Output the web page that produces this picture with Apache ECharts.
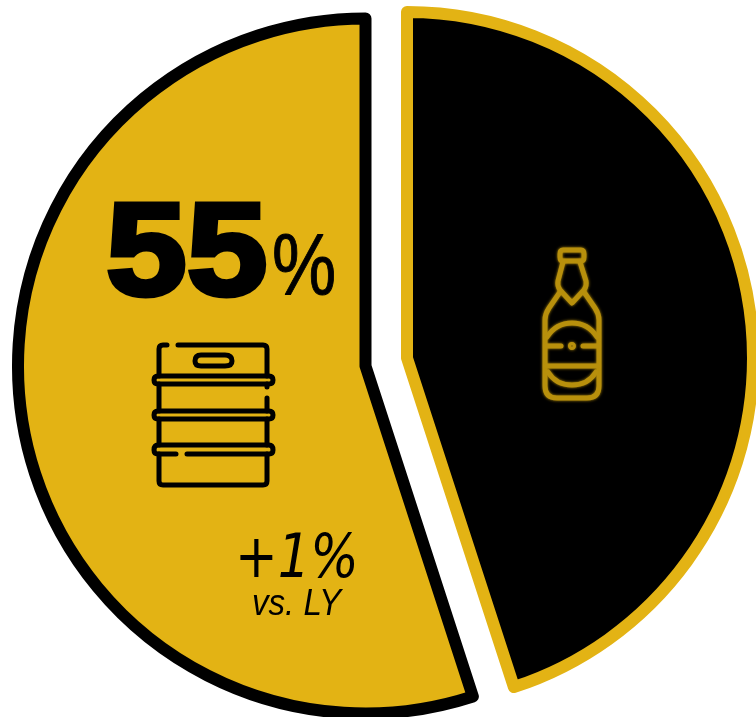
<!DOCTYPE html>
<html>
<head>
<meta charset="utf-8">
<style>html,body{margin:0;padding:0;background:#fff}#chart{width:756px;height:717px}</style>
<script src="https://cdn.jsdelivr.net/npm/echarts@6/dist/echarts.min.js"></script>
</head>
<body>
<div id="chart"></div>
<script>
// Share of volume by package type, clockwise from twelve o'clock
const categories = ['Bottle', 'Keg'];
const shares = [45, 55];
const changeLabel = '+1%';
const changeBasis = 'vs. LY';

const GOLD = '#E3B314';
const BLACK = '#000000';
const ICON_GOLD = '#B8900C';

// Each package type is its own pie so the two wedges can sit apart.
function wedge(visibleName, center, radius, fill, edge) {
  return {
    type: 'pie',
    silent: true,
    animation: false,
    center: center,
    radius: [0, radius],
    startAngle: 90,
    clockwise: true,
    label: { show: false },
    labelLine: { show: false },
    emphasis: { disabled: true },
    data: categories.map((name, i) => ({
      name: name,
      value: shares[i],
      itemStyle: name === visibleName
        ? { color: fill, borderColor: edge, borderWidth: 12, borderJoin: 'round' }
        : { color: 'rgba(0,0,0,0)', borderWidth: 0 }
    }))
  };
}

// Keg pictogram
const kegPaths = [
  'M167 345H163Q159 345 159 349V376',
  'M178 345H263Q267 345 267 349V376',
  'M159 384V411M159 419V445M159 454V481Q159 485 163 485H263Q267 485 267 481V454M267 445V419M267 411V398M267 387V384',
  'M176 454H158Q154 454 154 450Q154 445 158 445H269Q273 445 273 450Q273 454 269 454H187',
  'M158 376H269Q273 376 273 380Q273 384 269 384H158Q154 384 154 380Q154 376 158 376Z',
  'M158 411H269Q273 411 273 415Q273 419 269 419H158Q154 419 154 415Q154 411 158 411Z',
  'M201 355H225Q232 355 232 361Q232 366 225 366H201Q195 366 195 361Q195 355 201 355Z'
];

// Bottle pictogram
const bottlePaths = [
  'M563 250H581Q584 250 584 254V257Q584 261 581 261H563Q560 261 560 257V254Q560 250 563 250Z',
  'M563 262L558 281Q557 286 560 290L572 303L584 290Q587 286 586 281L580 262',
  'M560 292L549 308Q545 314 545 320V386Q545 398 557 398H587Q599 398 599 386V320Q599 314 595 308L584 292',
  'M547 337Q556 323 572 323Q588 323 597 337',
  'M547 346H561M583 346H597M547 366H597',
  'M548 372Q556 385 572 385Q588 385 596 372',
  'M572 344.5A1.5 1.5 0 1 1 571.9 344.5Z'
];

// Pictograms go through a custom series, drawn above both pies.
function icon(paths, color, lineWidth, blur) {
  return {
    type: 'custom',
    coordinateSystem: 'none',
    silent: true,
    animation: false,
    z: 5,
    data: [0],
    renderItem: () => ({
      type: 'group',
      children: paths.map(d => ({
        type: 'path',
        shape: { pathData: d },
        style: {
          fill: 'none',
          stroke: color,
          lineWidth: lineWidth,
          lineCap: 'round',
          lineJoin: 'round',
          shadowBlur: blur,
          shadowColor: color
        }
      }))
    })
  };
}

function text(x, y, str, font, scaleX, weight) {
  return {
    type: 'text',
    silent: true,
    z: 10,
    x: x,
    y: y,
    scaleX: scaleX,
    style: {
      text: str,
      font: font,
      fill: BLACK,
      stroke: weight ? BLACK : 'none',
      lineWidth: weight || 0,
      align: 'left',
      verticalAlign: 'top'
    }
  };
}

const sans = '"Liberation Sans", Arial, sans-serif';
const dejavuLight = '"DejaVu Sans ExtraLight", "DejaVu Sans", sans-serif';

const chart = echarts.init(document.getElementById('chart'), null, { renderer: 'canvas' });
chart.setOption({
  animation: false,
  backgroundColor: '#ffffff',
  series: [
    wedge('Keg', [365.5, 366], 347.5, GOLD, BLACK),
    wedge('Bottle', [407, 358], 346, BLACK, GOLD),
    icon(kegPaths, BLACK, 5, 0),
    icon(bottlePaths, ICON_GOLD, 5, 3)
  ],
  graphic: { elements: [
    text(106, 193, String(shares[1]), 'bold 132px ' + sans, 1.1, 5),
    text(272, 226, '%', '88px ' + sans, 0.82, 1),
    text(235, 531, changeLabel, 'italic 60px ' + dejavuLight, 0.85),
    text(252, 587, changeBasis, 'italic 36px ' + sans, 0.92)
  ] }
});
</script>
</body>
</html>
